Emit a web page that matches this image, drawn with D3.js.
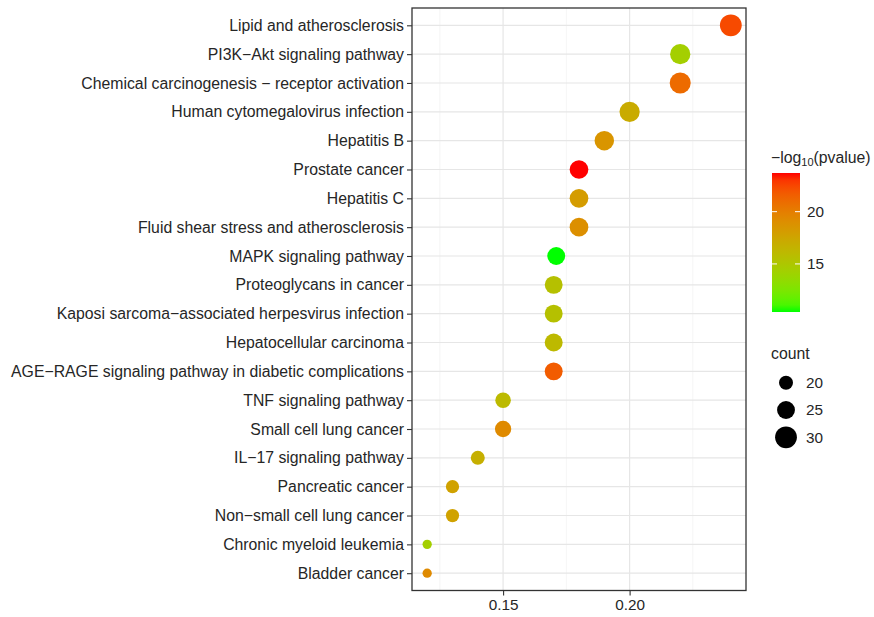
<!DOCTYPE html>
<html>
<head>
<meta charset="utf-8">
<script src="https://cdn.jsdelivr.net/npm/d3@7"></script>
<style>
  html, body { margin: 0; padding: 0; background: #fff; }
  svg { display: block; font-family: "Liberation Sans", Arial, sans-serif; }
</style>
</head>
<body>
<svg id="chart" width="874" height="617"></svg>
<script>
// ---- data (top to bottom) ----
const pathways = [
  "Lipid and atherosclerosis",
  "PI3K\u2212Akt signaling pathway",
  "Chemical carcinogenesis \u2212 receptor activation",
  "Human cytomegalovirus infection",
  "Hepatitis B",
  "Prostate cancer",
  "Hepatitis C",
  "Fluid shear stress and atherosclerosis",
  "MAPK signaling pathway",
  "Proteoglycans in cancer",
  "Kaposi sarcoma\u2212associated herpesvirus infection",
  "Hepatocellular carcinoma",
  "AGE\u2212RAGE signaling pathway in diabetic complications",
  "TNF signaling pathway",
  "Small cell lung cancer",
  "IL\u221217 signaling pathway",
  "Pancreatic cancer",
  "Non\u2212small cell lung cancer",
  "Chronic myeloid leukemia",
  "Bladder cancer"
];
const ratios = [0.24, 0.22, 0.22, 0.20, 0.19, 0.18, 0.18, 0.18, 0.171, 0.17, 0.17, 0.17, 0.17, 0.15, 0.15, 0.14, 0.13, 0.13, 0.12, 0.12];
const counts = [30, 28, 29, 28, 27, 26, 26, 26, 25, 25, 25, 25, 25, 22, 23, 20, 19, 19, 14, 14];
const logP   = [22.4, 14.4, 21.0, 17.1, 18.6, 23.7, 18.1, 19.0, 10.4, 15.5, 15.5, 16.1, 21.7, 16.0, 19.3, 16.8, 17.7, 17.7, 14.4, 19.3];
const xTicks = [0.15, 0.20];
const xMinor = [0.125, 0.175, 0.225];
const colorTicks = [15, 20];
const sizeTicks = [20, 25, 30];

const data = pathways.map((p, i) => ({ p, x: ratios[i], n: counts[i], v: logP[i] }));

// ---- layout ----
const svg = d3.select("#chart");
const panel = { left: 412, right: 746, top: 8, bottom: 590.5 };

const xExt = d3.extent(ratios);
const pad = (xExt[1] - xExt[0]) * 0.05;
const x = d3.scaleLinear().domain([xExt[0] - pad, xExt[1] + pad]).range([panel.left, panel.right]);
const y = d3.scalePoint().domain(pathways).range([panel.top, panel.bottom]).padding(0.6);
const vExt = d3.extent(logP);
const color = d3.scaleLinear().domain(vExt).range(["#00FF00", "#FF0000"]).interpolate(d3.interpolateLab);
const r = d3.scaleLinear().domain([20, 30]).range([7, 10.9]);

const textCol = "#262626";
const fontSize = 15.8;
const smallSize = 15.3;

// grid
const g = svg.append("g");
g.selectAll(".minor").data(xMinor).join("line")
  .attr("x1", d => x(d)).attr("x2", d => x(d))
  .attr("y1", panel.top).attr("y2", panel.bottom)
  .attr("stroke", "#f0f0f0").attr("stroke-width", 0.7);
g.selectAll(".major").data(xTicks).join("line")
  .attr("x1", d => x(d)).attr("x2", d => x(d))
  .attr("y1", panel.top).attr("y2", panel.bottom)
  .attr("stroke", "#e6e6e6").attr("stroke-width", 1.2);
g.selectAll(".hgrid").data(pathways).join("line")
  .attr("x1", panel.left).attr("x2", panel.right)
  .attr("y1", d => y(d)).attr("y2", d => y(d))
  .attr("stroke", "#e6e6e6").attr("stroke-width", 1.2);

// points
svg.append("g").selectAll("circle").data(data).join("circle")
  .attr("cx", d => x(d.x)).attr("cy", d => y(d.p))
  .attr("r", d => r(d.n))
  .attr("fill", d => color(d.v));

// panel border
svg.append("rect")
  .attr("x", panel.left).attr("y", panel.top)
  .attr("width", panel.right - panel.left).attr("height", panel.bottom - panel.top)
  .attr("fill", "none").attr("stroke", "#333").attr("stroke-width", 1.3);

// y axis
const yAxis = svg.append("g").attr("transform", `translate(${panel.left},0)`)
  .call(d3.axisLeft(y).tickSize(5).tickPadding(3));
yAxis.select(".domain").remove();
yAxis.selectAll("line").attr("stroke", "#333").attr("stroke-width", 1.1);
yAxis.selectAll("text").attr("fill", textCol).attr("font-size", fontSize)
  .attr("font-family", '"Liberation Sans", Arial, sans-serif');

// x axis
const xAxis = svg.append("g").attr("transform", `translate(0,${panel.bottom})`)
  .call(d3.axisBottom(x).tickValues(xTicks).tickFormat(d3.format(".2f")).tickSize(5).tickPadding(4));
xAxis.select(".domain").remove();
xAxis.selectAll("line").attr("stroke", "#333").attr("stroke-width", 1.1);
xAxis.selectAll("text").attr("fill", textCol).attr("font-size", smallSize)
  .attr("font-family", '"Liberation Sans", Arial, sans-serif');

// ---- colour legend ----
const cb = { x: 772, y: 173, w: 28, h: 139 };
const title = svg.append("text").attr("x", 771).attr("y", 163)
  .attr("font-size", fontSize).attr("fill", textCol);
title.append("tspan").text("\u2212log");
title.append("tspan").text("10").attr("font-size", 11).attr("dy", 3);
title.append("tspan").text("(pvalue)").attr("dy", -3);

const defs = svg.append("defs");
const grad = defs.append("linearGradient").attr("id", "cgrad")
  .attr("x1", 0).attr("y1", 1).attr("x2", 0).attr("y2", 0);
d3.range(0, 1.0001, 0.05).forEach(t => {
  grad.append("stop").attr("offset", t).attr("stop-color", color(vExt[0] + t * (vExt[1] - vExt[0])));
});
svg.append("rect").attr("x", cb.x).attr("y", cb.y).attr("width", cb.w).attr("height", cb.h)
  .attr("fill", "url(#cgrad)");
const cy = d3.scaleLinear().domain(vExt).range([cb.y + cb.h, cb.y]);
const ct = svg.append("g").selectAll("g").data(colorTicks).join("g");
ct.append("line").attr("x1", cb.x).attr("x2", cb.x + 5).attr("y1", d => cy(d)).attr("y2", d => cy(d))
  .attr("stroke", "#fff").attr("stroke-width", 1);
ct.append("line").attr("x1", cb.x + cb.w - 5).attr("x2", cb.x + cb.w).attr("y1", d => cy(d)).attr("y2", d => cy(d))
  .attr("stroke", "#fff").attr("stroke-width", 1);
ct.append("text").attr("x", cb.x + cb.w + 7).attr("y", d => cy(d)).attr("dy", "0.35em")
  .attr("font-size", smallSize).attr("fill", textCol).text(d => d);

// ---- size legend ----
svg.append("text").attr("x", 771).attr("y", 359).attr("font-size", fontSize).attr("fill", textCol).text("count");
const sy = d3.scalePoint().domain(sizeTicks).range([382.7, 437.3]);
const sl = svg.append("g").selectAll("g").data(sizeTicks).join("g");
sl.append("circle").attr("cx", 786).attr("cy", d => sy(d)).attr("r", d => r(d)).attr("fill", "#000");
sl.append("text").attr("x", 806).attr("y", d => sy(d)).attr("dy", "0.35em")
  .attr("font-size", smallSize).attr("fill", textCol).text(d => d);
</script>
</body>
</html>
